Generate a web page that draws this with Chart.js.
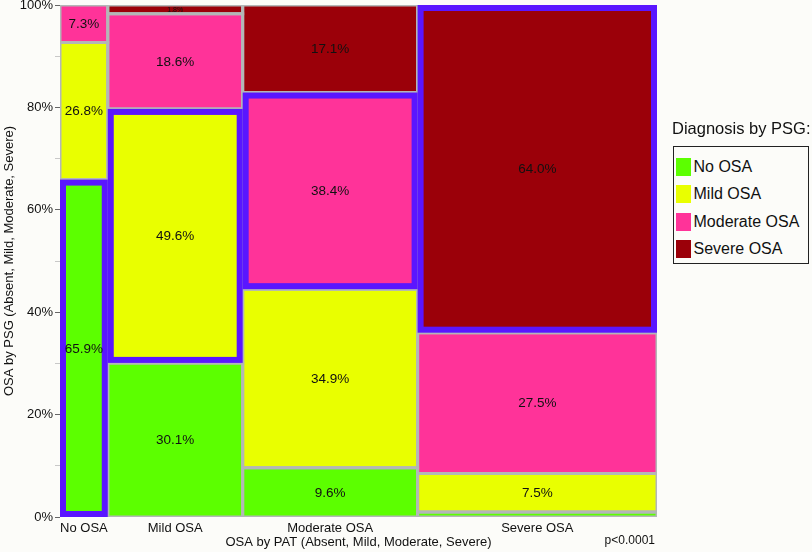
<!DOCTYPE html>
<html>
<head>
<meta charset="utf-8">
<script src="https://cdn.jsdelivr.net/npm/chart.js@4.4.1/dist/chart.umd.min.js"></script>
<style>
  html, body { margin: 0; padding: 0; background: #fcfcf9; }
  #wrap { position: relative; width: 812px; height: 552px; overflow: hidden; }
  #chart { position: absolute; left: 0; top: 0; }
  .lg { font-family: "Liberation Sans", Arial, Helvetica, sans-serif; color: #111; }
  #lgTitle { position: absolute; left: 672px; top: 119px; font-size: 16.5px; line-height: 18px; white-space: nowrap; }
  #lgBox { position: absolute; left: 673px; top: 146px; width: 134px; height: 110px; padding-top: 6px; box-sizing: content-box;
           border: 1.5px solid #222; background: #fcfcf9; }
  .lgRow { display: flex; align-items: center; height: 27.5px; font-size: 16px; white-space: nowrap; }
  .lgSw { width: 15px; height: 18px; margin-left: 1.5px; margin-right: 3px; }
</style>
</head>
<body>
<div id="wrap">
  <canvas id="chart" width="812" height="552"></canvas>
  <div id="lgTitle" class="lg"></div>
  <div id="lgBox" class="lg"></div>
</div>
<script>
// ---------- data ----------
const patCategories = ['No OSA', 'Mild OSA', 'Moderate OSA', 'Severe OSA'];   // x: OSA by PAT
const psgCategories = ['No OSA', 'Mild OSA', 'Moderate OSA', 'Severe OSA'];   // y: Diagnosis by PSG
const patShare    = [8.0, 22.6, 29.3, 40.1];     // % of patients in each PAT column (column widths)
const psgNoOSA    = [65.9, 30.1, 9.6, 1.0];      // % within each PAT column
const psgMild     = [26.8, 49.6, 34.9, 7.5];
const psgModerate = [7.3, 18.6, 38.4, 27.5];
const psgSevere   = [0.0, 1.8, 17.1, 64.0];
const yTickValues = [0, 10, 20, 30, 40, 50, 60, 70, 80, 90, 100];
const xTitle = 'OSA by PAT (Absent, Mild, Moderate, Severe)';
const yTitle = 'OSA by PSG (Absent, Mild, Moderate, Severe)';
const legendTitle = 'Diagnosis by PSG:';
const pValueText = 'p<0.0001';

// ---------- styles ----------
const psgColors = ['#5cff00', '#e9ff00', '#ff3399', '#9b0009'];
const cellBorder = '#b3b7b7';
const highlightColor = '#5a16ff';
const FONT = '"Liberation Sans", Arial, Helvetica, sans-serif';

// ---------- build mosaic cells ----------
const psgSeries = [psgNoOSA, psgMild, psgModerate, psgSevere];
const colStart = [];
let acc = 0;
patShare.forEach(s => { colStart.push(acc); acc += s; });
const colCenters = patShare.map((s, i) => colStart[i] + s / 2);

const cells = [];
patCategories.forEach((pat, c) => {
  let base = 0;
  psgSeries.forEach((series, r) => {
    const v = series[c];
    if (v > 0) {
      cells.push({ c, r, v,
        x0: colStart[c], x1: colStart[c] + patShare[c],
        y0: base, y1: Math.min(base + v, 100) });
    }
    base += v;
  });
});

const datasets = cells.map(cell => ({
  label: psgCategories[cell.r] + ' / ' + patCategories[cell.c],
  data: [
    { x: cell.x0, y: cell.y0 }, { x: cell.x0, y: cell.y1 },
    { x: cell.x1, y: cell.y1 }, { x: cell.x1, y: cell.y0 },
    { x: cell.x0, y: cell.y0 }
  ],
  showLine: true,
  fill: 'shape',
  backgroundColor: psgColors[cell.r],
  borderColor: cellBorder,
  borderWidth: 3,
  borderJoinStyle: 'miter',
  borderCapStyle: 'square',
  pointRadius: 0,
  tension: 0
}));

const mosaicPlugin = {
  id: 'mosaicExtras',
  afterDatasetsDraw(chart) {
    const { ctx, scales: { x, y } } = chart;
    ctx.save();
    // diagonal (agreement) highlight
    cells.forEach(cell => {
      if (cell.r !== cell.c) return;
      const L = x.getPixelForValue(cell.x0), R = x.getPixelForValue(cell.x1);
      const T = y.getPixelForValue(cell.y1), B = y.getPixelForValue(cell.y0);
      const w = 6;
      ctx.strokeStyle = highlightColor;
      ctx.lineWidth = w;
      ctx.lineJoin = 'miter';
      ctx.strokeRect(L + w / 2, T + w / 2, R - L - w, B - T - w);
    });
    // cell percentages
    ctx.fillStyle = '#111';
    ctx.textAlign = 'center';
    ctx.textBaseline = 'middle';
    cells.forEach(cell => {
      if (cell.v < 1.5) return;
      const L = x.getPixelForValue(cell.x0), R = x.getPixelForValue(cell.x1);
      const T = y.getPixelForValue(cell.y1), B = y.getPixelForValue(cell.y0);
      const size = (B - T) < 16 ? 7 : 13.5;
      ctx.font = size + 'px ' + FONT;
      ctx.fillText(cell.v.toFixed(1) + '%', (L + R) / 2, (T + B) / 2 + 0.5);
    });
    // p-value note
    ctx.font = '12px ' + FONT;
    ctx.textAlign = 'right';
    ctx.fillText(pValueText, x.right - 2, chart.height - 11);
    ctx.restore();
  }
};

new Chart(document.getElementById('chart'), {
  type: 'scatter',
  data: { datasets },
  options: {
    responsive: false,
    animation: false,
    events: [],
    layout: { padding: { left: 0, right: 155, top: 5, bottom: 0 } },
    plugins: {
      legend: { display: false },
      tooltip: { enabled: false },
      filler: { drawTime: 'beforeDatasetsDraw' }
    },
    scales: {
      x: {
        type: 'linear', min: 0, max: 100,
        border: { display: false },
        grid: { display: false, drawTicks: false },
        afterBuildTicks: ax => { ax.ticks = colCenters.map(v => ({ value: v })); },
        ticks: {
          autoSkip: false, maxRotation: 0, minRotation: 0, padding: 4,
          color: '#111', font: { size: 13, family: FONT },
          callback: (v, i) => patCategories[i]
        },
        title: { display: true, text: xTitle, color: '#111', font: { size: 13, family: FONT }, padding: { top: 0, bottom: 2 } },
        afterFit: ax => { ax.height = 35; ax.paddingLeft = 0; ax.paddingRight = 0; }
      },
      y: {
        type: 'linear', min: 0, max: 100,
        border: { display: false },
        grid: {
          drawOnChartArea: false, drawTicks: true, tickLength: 5,
          color: c => (c.tick && c.tick.value % 20 === 0) ? '#666' : '#c8c8c8',
          lineWidth: 1
        },
        afterBuildTicks: ax => { ax.ticks = yTickValues.map(v => ({ value: v })); },
        ticks: {
          autoSkip: false, padding: 2, color: '#111', font: { size: 13, family: FONT },
          callback: v => (v % 20 === 0 ? v + '%' : '')
        },
        title: { display: true, text: yTitle, color: '#111', font: { size: 13, family: FONT }, padding: { top: 2, bottom: 0 } },
        afterFit: ax => { ax.width = 60; ax.paddingTop = 0; ax.paddingBottom = 0; }
      }
    }
  },
  plugins: [mosaicPlugin]
});

// ---------- legend ----------
document.getElementById('lgTitle').textContent = legendTitle;
const box = document.getElementById('lgBox');
psgCategories.forEach((name, i) => {
  const row = document.createElement('div');
  row.className = 'lgRow';
  const sw = document.createElement('div');
  sw.className = 'lgSw';
  sw.style.background = psgColors[i];
  const tx = document.createElement('span');
  tx.textContent = name;
  row.appendChild(sw);
  row.appendChild(tx);
  box.appendChild(row);
});
</script>
</body>
</html>
